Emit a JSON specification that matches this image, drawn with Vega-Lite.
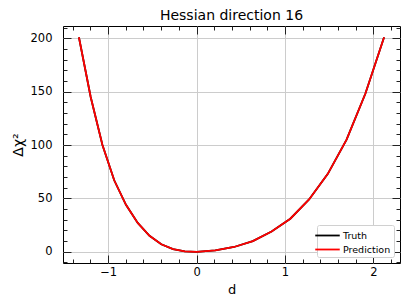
{
  "$schema": "https://vega.github.io/schema/vega-lite/v6.json",
  "width": 337,
  "height": 237,
  "autosize": {"type": "none"},
  "padding": {"left": 63, "top": 26, "right": 9, "bottom": 44},
  "title": {"text": "Hessian direction 16", "fontSize": 14, "font": "DejaVu Sans", "fontWeight": "normal", "color": "black", "offset": 3},
  "config": {
    "font": "DejaVu Sans",
    "view": {"stroke": "black", "strokeWidth": 1},
    "axis": {"domain": false, "tickColor": "#222", "tickWidth": 1, "labelFont": "DejaVu Sans", "labelFontSize": 11.5, "labelColor": "black", "titleFont": "DejaVu Sans", "titleFontSize": 13, "titleFontWeight": "normal", "titleColor": "black", "gridColor": "#cccccc", "gridWidth": 1}
  },
  "datasets": {
    "curve": [
      {"d": -1.33, "chi2": 201},
      {"d": -1.197, "chi2": 145},
      {"d": -1.064, "chi2": 100},
      {"d": -0.931, "chi2": 67},
      {"d": -0.798, "chi2": 44},
      {"d": -0.665, "chi2": 27},
      {"d": -0.532, "chi2": 15},
      {"d": -0.399, "chi2": 7},
      {"d": -0.266, "chi2": 2.5},
      {"d": -0.133, "chi2": 0.4},
      {"d": 0, "chi2": 0},
      {"d": 0.212, "chi2": 1.3},
      {"d": 0.424, "chi2": 4.5},
      {"d": 0.636, "chi2": 10},
      {"d": 0.848, "chi2": 19},
      {"d": 1.06, "chi2": 31},
      {"d": 1.272, "chi2": 49},
      {"d": 1.484, "chi2": 73},
      {"d": 1.696, "chi2": 105},
      {"d": 1.908, "chi2": 148},
      {"d": 2.12, "chi2": 201}
    ]
  },
  "layer": [
    {
      "data": {"name": "curve"},
      "transform": [{"calculate": "'Truth'", "as": "series"}],
      "mark": {"type": "line", "strokeWidth": 1.8},
      "encoding": {
        "x": {"field": "d", "type": "quantitative", "title": "d",
          "scale": {"domain": [-1.51, 2.3], "nice": false, "zero": false},
          "axis": {"orient": "bottom", "values": [-1.4,-1.2,-1,-0.8,-0.6,-0.4,-0.2,0,0.2,0.4,0.6,0.8,1,1.2,1.4,1.6,1.8,2,2.2],
            "format": ".0f",
            "tickSize": {"condition": {"test": "abs(datum.value - round(datum.value)) < 1e-6", "value": -8}, "value": -4},
            "gridOpacity": {"condition": {"test": "abs(datum.value - round(datum.value)) < 1e-6", "value": 1}, "value": 0},
            "labelExpr": "abs(datum.value - round(datum.value)) < 1e-6 ? datum.label : ''",
            "labelPadding": 11, "titlePadding": 6}},
        "y": {"field": "chi2", "type": "quantitative", "title": "Δχ²",
          "scale": {"domain": [-10.5, 211.5], "nice": false, "zero": false},
          "axis": {"orient": "left", "values": [-10,0,10,20,30,40,50,60,70,80,90,100,110,120,130,140,150,160,170,180,190,200,210],
            "tickSize": {"condition": {"test": "datum.value % 50 === 0", "value": -8}, "value": -4},
            "gridOpacity": {"condition": {"test": "datum.value % 50 === 0", "value": 1}, "value": 0},
            "labelExpr": "datum.value % 50 === 0 ? datum.label : ''",
            "labelPadding": 19, "titlePadding": 5, "titleFontSize": 14}},
        "color": {"field": "series", "type": "nominal",
          "scale": {"domain": ["Truth", "Prediction"], "range": ["black", "red"]},
          "legend": {"title": null, "orient": "bottom-right", "offset": 6, "symbolType": "M-2,0H2", "symbolSize": 150, "symbolStrokeWidth": 1.8, "labelFontSize": 9.5, "labelFont": "DejaVu Sans", "labelColor": "black", "labelOffset": 8, "strokeColor": "#d0d0d0", "fillColor": "white", "padding": 3, "cornerRadius": 2, "rowPadding": 2}}
      }
    },
    {
      "data": {"name": "curve"},
      "transform": [{"calculate": "'Prediction'", "as": "series"}],
      "mark": {"type": "line", "strokeWidth": 1.8},
      "encoding": {
        "x": {"field": "d", "type": "quantitative", "title": null,
          "scale": {"domain": [-1.51, 2.3], "nice": false, "zero": false},
          "axis": {"orient": "top", "values": [-1.4,-1.2,-1,-0.8,-0.6,-0.4,-0.2,0,0.2,0.4,0.6,0.8,1,1.2,1.4,1.6,1.8,2,2.2],
            "tickSize": {"condition": {"test": "abs(datum.value - round(datum.value)) < 1e-6", "value": -8}, "value": -4},
            "labels": false, "grid": false}},
        "y": {"field": "chi2", "type": "quantitative", "title": null,
          "scale": {"domain": [-10.5, 211.5], "nice": false, "zero": false},
          "axis": {"orient": "right", "values": [-10,0,10,20,30,40,50,60,70,80,90,100,110,120,130,140,150,160,170,180,190,200,210],
            "tickSize": {"condition": {"test": "datum.value % 50 === 0", "value": -8}, "value": -4},
            "labels": false, "grid": false}},
        "color": {"field": "series", "type": "nominal",
          "scale": {"domain": ["Truth", "Prediction"], "range": ["black", "red"]}}
      }
    }
  ],
  "resolve": {"scale": {"x": "independent", "y": "independent"}, "axis": {"x": "independent", "y": "independent"}}
}
